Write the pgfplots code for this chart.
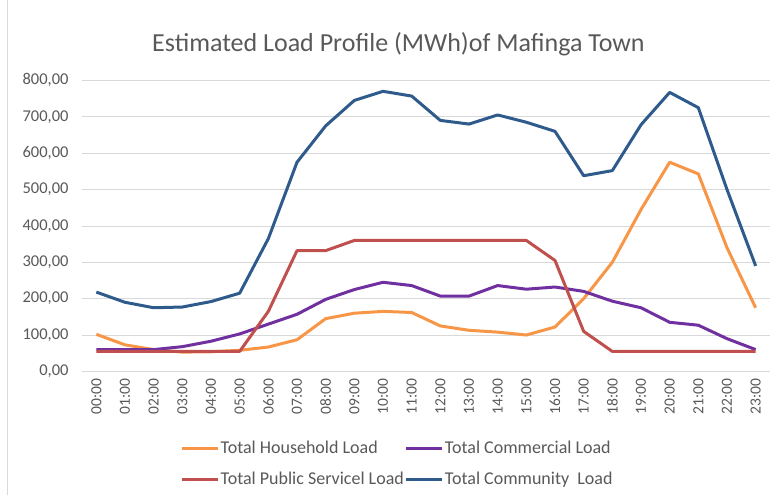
\documentclass[border=0pt]{standalone}
\usepackage{pgfplots}
\pgfplotsset{compat=1.18}
\usepackage{fontspec}
\setmainfont{Carlito}
\definecolor{hhold}{RGB}{247,150,70}
\definecolor{comm}{RGB}{112,48,160}
\definecolor{pub}{RGB}{192,80,77}
\definecolor{cmty}{RGB}{46,91,140}
\definecolor{txt}{RGB}{89,89,89}
\definecolor{grd}{RGB}{217,217,217}
\begin{document}
\begin{tikzpicture}
\begin{axis}[
  scale only axis,
  width=688pt, height=291pt,
  xmin=-0.5, xmax=23.5, ymin=0, ymax=800,
  ytick={0,100,...,800},
  xtick={0,...,23},
  xticklabels={00:00,01:00,02:00,03:00,04:00,05:00,06:00,07:00,08:00,09:00,10:00,11:00,12:00,13:00,14:00,15:00,16:00,17:00,18:00,19:00,20:00,21:00,22:00,23:00},
  x tick label style={rotate=90, anchor=east, font=\fontsize{15.5}{18}\selectfont, text=txt},
  y tick label style={font=\fontsize{16.5}{19}\selectfont, text=txt},
  /pgf/number format/.cd, fixed, fixed zerofill, precision=2, use comma, assume math mode=true,
  /pgfplots/.cd,
  yticklabel style={/pgf/number format/.cd, fixed, fixed zerofill, precision=2, use comma},
  ymajorgrids, major grid style={grd, line width=0.8pt},
  axis line style={draw=none},
  tick style={draw=none},
  xticklabel shift=4pt, yticklabel shift=10pt,
  title={Estimated Load Profile (MWh)of Mafinga Town},
  title style={font=\fontsize{26}{30}\selectfont, text=txt, at={(0.46,1)}, anchor=south, yshift=15pt},
  legend columns=2,
  legend cell align=left,
  legend style={draw=none, at={(0.458,-0.226)}, anchor=north, font=\fontsize{18}{21}\selectfont, text=txt,
    nodes={inner xsep=1pt},
    /tikz/every even column/.append style={column sep=0pt}, row sep=13pt},
  legend image code/.code={\draw[#1, line width=3pt] (0pt,0pt) -- (36pt,0pt);},
  every axis plot/.append style={line width=3pt, line join=round},
]
\addplot[hhold] coordinates {(0,102) (1,73) (2,60) (3,53) (4,54) (5,58) (6,67) (7,87) (8,145) (9,160) (10,165) (11,162) (12,125) (13,113) (14,108) (15,100) (16,122) (17,200) (18,300) (19,445) (20,575) (21,543) (22,340) (23,175)};
\addplot[comm] coordinates {(0,60) (1,60) (2,60) (3,68) (4,83) (5,103) (6,130) (7,157) (8,198) (9,225) (10,245) (11,236) (12,207) (13,207) (14,236) (15,226) (16,232) (17,220) (18,193) (19,175) (20,135) (21,127) (22,90) (23,60)};
\addplot[pub] coordinates {(0,55) (1,55) (2,55) (3,55) (4,55) (5,55) (6,165) (7,332) (8,332) (9,360) (10,360) (11,360) (12,360) (13,360) (14,360) (15,360) (16,305) (17,110) (18,55) (19,55) (20,55) (21,55) (22,55) (23,55)};
\addplot[cmty] coordinates {(0,218) (1,190) (2,175) (3,177) (4,192) (5,215) (6,365) (7,575) (8,675) (9,745) (10,770) (11,757) (12,690) (13,680) (14,705) (15,685) (16,660) (17,538) (18,552) (19,678) (20,767) (21,725) (22,500) (23,290)};
\legend{Total Household Load, Total Commercial Load, Total Public Servicel Load, Total Community\ \ Load}
\end{axis}
\draw[grd, line width=0.8pt] (-75pt,-124pt) -- (-75pt,371pt);
\path[use as bounding box] (-82pt,-124pt) rectangle (697pt,371pt);
\end{tikzpicture}
\end{document}
